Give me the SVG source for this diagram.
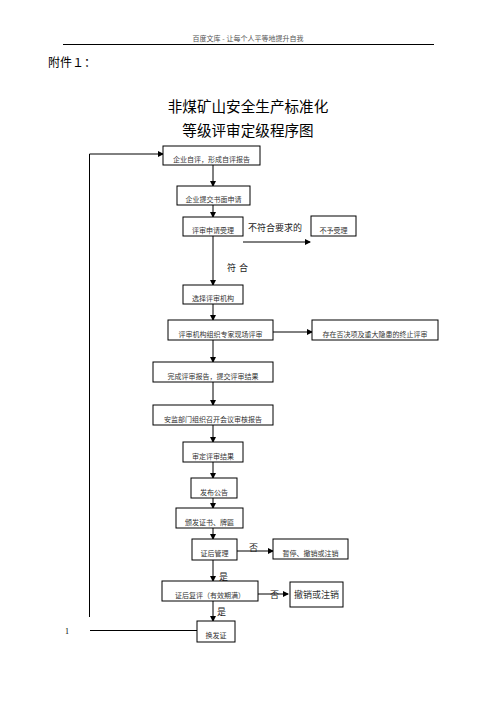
<svg xmlns="http://www.w3.org/2000/svg" width="496" height="702" viewBox="0 0 496 702">
<defs>
<marker id="ah" markerWidth="6" markerHeight="6" refX="5" refY="3" orient="auto" markerUnits="userSpaceOnUse">
<path d="M0,0 L6,3 L0,6 Z" fill="#000"/>
</marker>
<style>
.box{fill:#fff;stroke:#000;stroke-width:1}
.bt{font-family:"Liberation Sans","Noto Sans CJK SC",sans-serif;font-size:7px;fill:#333;text-anchor:middle}
.lbl{font-family:"Liberation Sans","Noto Sans CJK SC",sans-serif;font-size:9px;fill:#222}
.ln{fill:none;stroke:#000;stroke-width:1}
.arr{fill:none;stroke:#000;stroke-width:1;marker-end:url(#ah)}
</style>
</defs>
<rect width="496" height="702" fill="#fff"/>
<text x="248" y="41" font-family="Liberation Serif,'Noto Sans CJK SC',serif" font-size="7" fill="#555" text-anchor="middle">百度文库 - 让每个人平等地提升自我</text>
<line x1="63" y1="44.5" x2="434" y2="44.5" stroke="#000" stroke-width="1"/>
<text x="48" y="67" font-family="'Liberation Sans','Noto Sans CJK SC',sans-serif" font-size="12" fill="#000">附件１：</text>
<text x="248" y="112" font-family="'Liberation Sans','Noto Sans CJK SC',sans-serif" font-size="14.6" fill="#000" text-anchor="middle">非煤矿山安全生产标准化</text>
<text x="248" y="136" font-family="'Liberation Sans','Noto Sans CJK SC',sans-serif" font-size="14.6" fill="#000" text-anchor="middle">等级评审定级程序图</text>

<g id="connectors">
<line class="ln" x1="89.5" y1="154" x2="89.5" y2="617"/>
<line class="arr" x1="89.5" y1="154" x2="163" y2="154"/>
<line class="ln" x1="90" y1="630.5" x2="197" y2="630.5"/>
<line class="arr" x1="213" y1="165" x2="213" y2="186"/>
<line class="arr" x1="213" y1="205" x2="213" y2="217"/>
<line class="arr" x1="243" y1="242" x2="310" y2="242"/>
<line class="arr" x1="213" y1="236" x2="213" y2="285"/>
<line class="arr" x1="213" y1="304" x2="213" y2="320"/>
<line class="arr" x1="273" y1="332" x2="312" y2="332"/>
<line class="arr" x1="213" y1="340" x2="213" y2="362"/>
<line class="arr" x1="213" y1="382" x2="213" y2="405"/>
<line class="arr" x1="213" y1="425" x2="213" y2="442"/>
<line class="arr" x1="213" y1="462" x2="213" y2="478"/>
<line class="arr" x1="213" y1="498" x2="213" y2="508"/>
<line class="arr" x1="213" y1="528" x2="213" y2="539"/>
<line class="arr" x1="237" y1="551" x2="273" y2="551"/>
<line class="arr" x1="213" y1="560" x2="213" y2="581"/>
<line class="arr" x1="258" y1="594" x2="288" y2="594"/>
<line class="arr" x1="213" y1="601" x2="213" y2="621"/>
<text class="lbl" x="248" y="231">不符合要求的</text>
<text class="lbl" x="227" y="271" letter-spacing="3">符合</text>
<text class="lbl" x="249" y="551">否</text>
<text class="lbl" x="219" y="580">是</text>
<text class="lbl" x="270" y="598">否</text>
<text class="lbl" x="217" y="615">是</text>
</g>

<g id="n1"><rect class="box" x="163" y="146" width="97" height="19"/><text class="bt" x="211.5" y="162">企业自评，形成自评报告</text></g>
<g id="n2"><rect class="box" x="177" y="186" width="73" height="19"/><text class="bt" x="213.5" y="202">企业提交书面申请</text></g>
<g id="n3"><rect class="box" x="183" y="217" width="60" height="19"/><text class="bt" x="213" y="233">评审申请受理</text></g>
<g id="n4"><rect class="box" x="311" y="216" width="45" height="20"/><text class="bt" x="333.5" y="233">不予受理</text></g>
<g id="n5"><rect class="box" x="183" y="285" width="60" height="19"/><text class="bt" x="213" y="301">选择评审机构</text></g>
<g id="n6"><rect class="box" x="168" y="320" width="105" height="20"/><text class="bt" x="220.5" y="337">评审机构组织专家现场评审</text></g>
<g id="n7"><rect class="box" x="312" y="320" width="126" height="20"/><text class="bt" x="375" y="337">存在否决项及重大隐患的终止评审</text></g>
<g id="n8"><rect class="box" x="153" y="362" width="120" height="20"/><text class="bt" x="213" y="379">完成评审报告，提交评审结果</text></g>
<g id="n9"><rect class="box" x="153" y="405" width="120" height="20"/><text class="bt" x="213" y="422">安监部门组织召开会议审核报告</text></g>
<g id="n10"><rect class="box" x="183" y="442" width="60" height="20"/><text class="bt" x="213" y="459">审定评审结果</text></g>
<g id="n11"><rect class="box" x="191" y="478" width="46" height="20"/><text class="bt" x="214" y="495">发布公告</text></g>
<g id="n12"><rect class="box" x="176" y="508" width="67" height="20"/><text class="bt" x="209.5" y="525">颁发证书、牌匾</text></g>
<g id="n13"><rect class="box" x="192" y="539" width="45" height="21"/><text class="bt" x="214.5" y="556">证后管理</text></g>
<g id="n14"><rect class="box" x="273" y="539" width="75" height="20"/><text class="bt" x="310.5" y="556">暂停、撤销或注销</text></g>
<g id="n15"><rect class="box" x="162" y="581" width="96" height="20"/><text class="bt" x="210" y="598">证后复评（有效期满）</text></g>
<g id="n16"><rect class="box" x="290" y="582" width="53" height="25"/><text class="bt" x="316.5" y="598" style="font-size:9px">撤销或注销</text></g>
<g id="n17"><rect class="box" x="197" y="621" width="38" height="21"/><text class="bt" x="216" y="638">换发证</text></g>
<text x="65" y="634" font-family="'Liberation Serif',serif" font-size="8" fill="#000">1</text>
</svg>
